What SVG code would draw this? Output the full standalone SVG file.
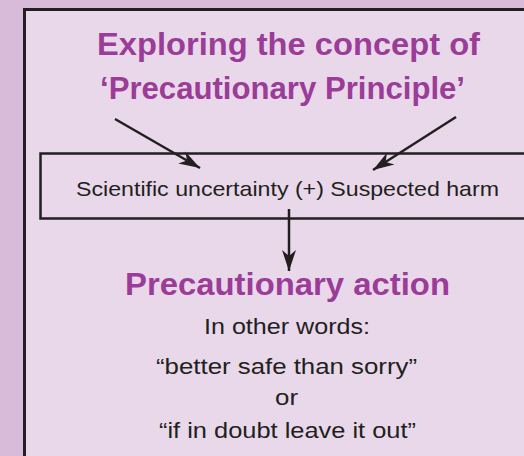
<svg xmlns="http://www.w3.org/2000/svg" width="524" height="456" viewBox="0 0 524 456">
<style>
.title{font-family:"Liberation Sans",Arial,sans-serif;font-weight:bold;fill:#9b3c98;text-anchor:middle}
.body{font-family:"Liberation Sans",Arial,sans-serif;fill:#231f20;text-anchor:middle}
.conn{stroke:#231f20;stroke-width:2.5;fill:none}
</style>
<defs>
<marker id="ah" markerUnits="userSpaceOnUse" markerWidth="30" markerHeight="20" viewBox="-22 -10 24 20" refX="0" refY="0" orient="auto">
<path d="M0,0 L-21,-7 L-15,0 L-21,7 Z" fill="#231f20"/>
</marker>
</defs>
<rect x="0" y="0" width="524" height="456" fill="#d8bad9"/>
<rect x="24.5" y="9.5" width="520" height="470" fill="#e8d8ea" stroke="#231f20" stroke-width="3"/>
<g id="title">
<text class="title" x="288.5" y="55" font-size="32" textLength="383" lengthAdjust="spacingAndGlyphs">Exploring the concept of</text>
<text class="title" x="282.5" y="99" font-size="32" textLength="365" lengthAdjust="spacingAndGlyphs">‘Precautionary Principle’</text>
</g>
<g id="box">
<rect x="40.5" y="153.5" width="500" height="65" fill="none" stroke="#231f20" stroke-width="2.5"/>
<text class="body" x="287.5" y="196" font-size="21" textLength="423" lengthAdjust="spacingAndGlyphs">Scientific uncertainty (+) Suspected harm</text>
</g>
<g id="connectors">
<line class="conn" x1="115" y1="119" x2="200" y2="168" marker-end="url(#ah)"/>
<line class="conn" x1="456" y1="117" x2="373" y2="170" marker-end="url(#ah)"/>
<line class="conn" x1="289" y1="209" x2="289" y2="271" marker-end="url(#ah)"/>
</g>
<g id="action">
<text class="title" x="287.5" y="295" font-size="31" textLength="325" lengthAdjust="spacingAndGlyphs">Precautionary action</text>
<text class="body" x="287" y="334" font-size="22" textLength="166" lengthAdjust="spacingAndGlyphs">In other words:</text>
<text class="body" x="286.5" y="374" font-size="22" textLength="261" lengthAdjust="spacingAndGlyphs">“better safe than sorry”</text>
<text class="body" x="286.5" y="405" font-size="22" textLength="23" lengthAdjust="spacingAndGlyphs">or</text>
<text class="body" x="287.5" y="438" font-size="22" textLength="257" lengthAdjust="spacingAndGlyphs">“if in doubt leave it out”</text>
</g>
</svg>
